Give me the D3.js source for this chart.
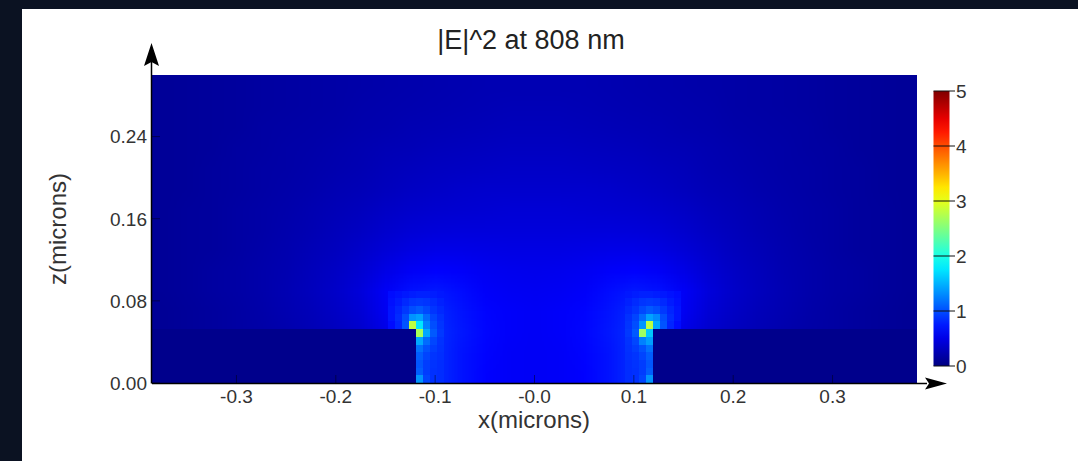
<!DOCTYPE html>
<html><head><meta charset="utf-8">
<script src="https://cdn.jsdelivr.net/npm/d3@7"></script>
<style>
html,body{margin:0;padding:0;background:#0b1222;}
svg{display:block;}
</style></head><body>
<svg id="chart" width="1078" height="461"></svg>
<script>
// ---------- text / ticks ----------
const titleText = "|E|^2 at 808 nm";
const xLabelText = "x(microns)";
const zLabelText = "z(microns)";
const xTicks = [-0.3, -0.2, -0.1, 0, 0.1, 0.2, 0.3];
const xTickLabels = ["-0.3", "-0.2", "-0.1", "-0.0", "0.1", "0.2", "0.3"];
const zTicks = [0, 0.08, 0.16, 0.24];
const zTickLabels = ["0.00", "0.08", "0.16", "0.24"];
const cbTicks = [0, 1, 2, 3, 4, 5];
const xDomain = [-0.385, 0.385];
const zDomain = [0, 0.3];
const cDomain = [0, 5];

// ---------- coarse |E|^2 field (column centres x, row centres z top->bottom) ----------
const gridX = [-0.375,-0.35,-0.325,-0.3,-0.275,-0.25,-0.225,-0.2,-0.175,-0.15,-0.125,-0.1,-0.075,-0.05,-0.025,0,
               0.025,0.05,0.075,0.1,0.125,0.15,0.175,0.2,0.225,0.25,0.275,0.3,0.325,0.35,0.375];
const gridZ = [0.29,0.27,0.25,0.23,0.21,0.19,0.17,0.15,0.13,0.11,0.09,0.07,0.05,0.03,0.01];
const gridE2 = [
 [.12,.13,.14,.15,.16,.17,.18,.19,.20,.21,.22,.23,.24,.25,.25,.25,.25,.25,.24,.23,.22,.21,.20,.19,.18,.17,.16,.15,.14,.13,.12],
 [.12,.13,.14,.15,.16,.17,.18,.19,.21,.22,.23,.24,.25,.26,.27,.27,.27,.26,.25,.24,.23,.22,.21,.19,.18,.17,.16,.15,.14,.13,.12],
 [.12,.13,.14,.15,.17,.18,.19,.20,.22,.23,.25,.26,.27,.28,.29,.29,.29,.28,.27,.26,.25,.23,.22,.20,.19,.18,.17,.15,.14,.13,.12],
 [.12,.13,.14,.16,.17,.19,.20,.22,.24,.26,.27,.29,.30,.31,.32,.32,.32,.31,.30,.29,.27,.26,.24,.22,.20,.19,.17,.16,.14,.13,.12],
 [.12,.13,.15,.16,.18,.19,.21,.23,.25,.28,.30,.32,.33,.34,.35,.35,.35,.34,.33,.32,.30,.28,.25,.23,.21,.19,.18,.16,.15,.13,.12],
 [.12,.13,.15,.16,.18,.20,.22,.25,.27,.30,.33,.35,.37,.38,.38,.38,.38,.38,.37,.35,.33,.30,.27,.25,.22,.20,.18,.16,.15,.13,.12],
 [.12,.14,.15,.17,.19,.21,.24,.27,.30,.34,.37,.39,.40,.41,.42,.42,.42,.41,.40,.39,.37,.34,.30,.27,.24,.21,.19,.17,.15,.14,.12],
 [.12,.14,.15,.17,.19,.22,.25,.29,.33,.38,.42,.44,.45,.45,.45,.45,.45,.45,.45,.44,.42,.38,.33,.29,.25,.22,.19,.17,.15,.14,.12],
 [.12,.14,.15,.17,.20,.23,.27,.31,.37,.43,.48,.51,.51,.50,.49,.49,.49,.50,.51,.51,.48,.43,.37,.31,.27,.23,.20,.17,.15,.14,.12],
 [.12,.14,.16,.18,.21,.24,.29,.34,.41,.50,.58,.62,.60,.56,.54,.53,.54,.56,.60,.62,.58,.50,.41,.34,.29,.24,.21,.18,.16,.14,.12],
 [.12,.14,.16,.18,.21,.25,.30,.36,.45,.58,.70,.74,.68,.60,.57,.56,.57,.60,.68,.74,.70,.58,.45,.36,.30,.25,.21,.18,.16,.14,.12],
 [.11,.13,.15,.17,.20,.24,.28,.34,.42,.56,.75,.82,.72,.64,.60,.58,.60,.64,.72,.82,.75,.56,.42,.34,.28,.24,.20,.17,.15,.13,.11],
 [.11,.13,.15,.17,.19,.22,.26,.31,.38,.50,.68,.85,.74,.65,.60,.58,.60,.65,.74,.85,.68,.50,.38,.31,.26,.22,.19,.17,.15,.13,.11],
 [.05,.05,.05,.05,.05,.05,.06,.06,.06,.07,.30,.85,.72,.64,.59,.58,.59,.64,.72,.85,.30,.07,.06,.06,.06,.05,.05,.05,.05,.05,.05],
 [.05,.05,.05,.05,.05,.05,.06,.06,.06,.07,.30,.85,.72,.63,.59,.58,.59,.63,.72,.85,.30,.07,.06,.06,.06,.05,.05,.05,.05,.05,.05]
];

// ---------- fine mesh cells around the two corners ----------
const patchZ = [0.08625,0.07875,0.07125,0.06375,0.05625,0.04875,0.04125,0.03375,0.02625,0.01875,0.01125,0.00375];
const patchLeftX = [-0.1435,-0.1365,-0.1295,-0.1225,-0.1155,-0.1085,-0.1015,-0.0945];
const patchLeftE2 = [
 [0.68,0.71,0.74,0.76,0.78,0.78,0.76,0.74],
 [0.70,0.75,0.82,0.88,0.90,0.88,0.83,0.78],
 [0.72,0.80,0.90,1.00,1.06,0.98,0.88,0.82],
 [0.72,0.83,1.00,1.35,1.42,1.15,0.96,0.86],
 [0.68,0.80,1.03,2.80,1.75,1.25,1.00,0.88],
 [null,null,null,null,2.70,1.45,1.06,0.90],
 [null,null,null,null,1.45,1.15,0.97,0.87],
 [null,null,null,null,1.18,1.02,0.92,0.86],
 [null,null,null,null,1.08,0.96,0.88,0.85],
 [null,null,null,null,1.04,0.92,0.87,0.84],
 [null,null,null,null,1.08,0.92,0.86,0.84],
 [null,null,null,null,1.35,0.96,0.86,0.84]
];
const patchRightX = [0.0945,0.1015,0.1085,0.1155,0.1225,0.1295,0.1365,0.1435];
const patchRightE2 = [
 [0.74,0.76,0.78,0.78,0.76,0.74,0.71,0.68],
 [0.78,0.83,0.88,0.90,0.88,0.82,0.75,0.70],
 [0.82,0.88,0.98,1.06,1.00,0.90,0.80,0.72],
 [0.86,0.96,1.15,1.42,1.30,1.00,0.83,0.72],
 [0.88,1.00,1.35,2.80,1.45,1.03,0.80,0.68],
 [0.90,1.06,2.65,1.60,null,null,null,null],
 [0.87,0.97,1.25,1.40,null,null,null,null],
 [0.86,0.92,1.02,1.18,null,null,null,null],
 [0.85,0.88,0.96,1.08,null,null,null,null],
 [0.84,0.87,0.92,1.04,null,null,null,null],
 [0.84,0.86,0.92,1.08,null,null,null,null],
 [0.84,0.86,0.96,1.35,null,null,null,null]
];

// ---------- the two low-field blocks (x0, x1, z0, z1 in microns) ----------
const blockX0 = [-0.385, 0.1195];
const blockX1 = [-0.1195, 0.385];
const blockZ0 = [0, 0];
const blockZ1 = [0.0525, 0.0525];
const blockE2 = [0.06, 0.06];

// ---------- drawing ----------
const W = 1078, H = 461;
const svg = d3.select("#chart");
const font = "'Liberation Sans', Arial, sans-serif";
svg.append("rect").attr("x", 22).attr("y", 9).attr("width", W - 22).attr("height", H - 9).attr("fill", "#ffffff");

const P = {l: 152, r: 917, t: 75, b: 383};
const x = d3.scaleLinear().domain(xDomain).range([P.l, P.r]);
const z = d3.scaleLinear().domain(zDomain).range([P.b, P.t]);
const span = cDomain[1] - cDomain[0];
const color = d3.scaleLinear()
  .domain([0, 0.125, 0.375, 0.625, 0.875, 1].map(f => cDomain[0] + f * span))
  .range(["#000080", "#0000ff", "#00ffff", "#ffff00", "#ff0000", "#800000"])
  .interpolate(d3.interpolateRgb).clamp(true);

const defs = svg.append("defs");
defs.append("clipPath").attr("id", "clip").append("rect")
  .attr("x", P.l).attr("y", P.t).attr("width", P.r - P.l).attr("height", P.b - P.t);

const field = svg.append("g").attr("clip-path", "url(#clip)");

// coarse field as a smoothly scaled image
const nx = gridX.length, nz = gridZ.length;
const cv = document.createElement("canvas");
cv.width = nx; cv.height = nz;
const ctx = cv.getContext("2d");
const img = ctx.createImageData(nx, nz);
gridE2.forEach((row, j) => row.forEach((v, i) => {
  const c = d3.rgb(color(v)); const k = (j * nx + i) * 4;
  img.data[k] = c.r; img.data[k + 1] = c.g; img.data[k + 2] = c.b; img.data[k + 3] = 255;
}));
ctx.putImageData(img, 0, 0);
const gdx = gridX[1] - gridX[0], gdz = gridZ[0] - gridZ[1];
const gx0 = x(gridX[0] - gdx / 2), gx1 = x(gridX[nx - 1] + gdx / 2);
const gy0 = z(gridZ[0] + gdz / 2), gy1 = z(gridZ[nz - 1] - gdz / 2);
field.append("image").attr("href", cv.toDataURL())
  .attr("x", gx0).attr("y", gy0).attr("width", gx1 - gx0).attr("height", gy1 - gy0)
  .attr("preserveAspectRatio", "none");

// fine cells
function drawPatch(xs, vals) {
  const pdx = xs[1] - xs[0], pdz = patchZ[0] - patchZ[1];
  const cells = [];
  vals.forEach((row, j) => row.forEach((v, i) => { if (v !== null) cells.push({xc: xs[i], zc: patchZ[j], v}); }));
  field.append("g").attr("shape-rendering", "crispEdges").selectAll("rect").data(cells).join("rect")
    .attr("x", d => x(d.xc - pdx / 2)).attr("y", d => z(d.zc + pdz / 2))
    .attr("width", d => x(d.xc + pdx / 2) - x(d.xc - pdx / 2))
    .attr("height", d => z(d.zc - pdz / 2) - z(d.zc + pdz / 2))
    .attr("fill", d => color(d.v));
}
drawPatch(patchLeftX, patchLeftE2);
drawPatch(patchRightX, patchRightE2);

// blocks
const blocks = blockX0.map((x0, i) => ({x0, x1: blockX1[i], z0: blockZ0[i], z1: blockZ1[i], v: blockE2[i]}));
field.append("g").attr("shape-rendering", "crispEdges").selectAll("rect").data(blocks).join("rect")
  .attr("x", d => x(d.x0)).attr("y", d => z(d.z1))
  .attr("width", d => x(d.x1) - x(d.x0)).attr("height", d => z(d.z0) - z(d.z1))
  .attr("fill", d => color(d.v));

// ticks inside plot
const tg = svg.append("g").attr("stroke", "#000").attr("stroke-opacity", 0.45).attr("stroke-width", 1);
tg.selectAll(".xt").data(xTicks).join("line").attr("class", "xt")
  .attr("x1", d => x(d)).attr("x2", d => x(d)).attr("y1", P.b).attr("y2", P.b - 8);
tg.selectAll(".zt").data(zTicks).join("line").attr("class", "zt")
  .attr("x1", P.l).attr("x2", P.l + 8).attr("y1", d => z(d)).attr("y2", d => z(d));

// axis lines with arrows
const ax = svg.append("g");
ax.append("line").attr("x1", P.l).attr("x2", 927).attr("y1", P.b + 0.5).attr("y2", P.b + 0.5).attr("stroke", "#000").attr("stroke-width", 1.5);
ax.append("path").attr("d", `M947,${P.b + 0.5} L925,${P.b - 5.5} L929,${P.b + 0.5} L925,${P.b + 6.5} Z`).attr("fill", "#000");
ax.append("line").attr("x1", P.l - 0.5).attr("x2", P.l - 0.5).attr("y1", P.b + 0.5).attr("y2", 62).attr("stroke", "#000").attr("stroke-width", 1.5);
ax.append("path").attr("d", `M${P.l - 0.5},43 L${P.l - 8},66 L${P.l - 0.5},62 L${P.l + 7},66 Z`).attr("fill", "#000");

// tick labels
svg.append("g").selectAll("text").data(xTicks).join("text")
  .attr("x", d => x(d)).attr("y", 403).attr("text-anchor", "middle")
  .attr("font-family", font).attr("font-size", 19).attr("fill", "#333")
  .text((d, i) => xTickLabels[i]);
svg.append("g").selectAll("text").data(zTicks).join("text")
  .attr("x", 147).attr("y", d => z(d)).attr("dy", "0.36em").attr("text-anchor", "end")
  .attr("font-family", font).attr("font-size", 19).attr("fill", "#333")
  .text((d, i) => zTickLabels[i]);

// labels
svg.append("text").attr("x", 531).attr("y", 49).attr("text-anchor", "middle")
  .attr("font-family", font).attr("font-size", 27).attr("fill", "#222").text(titleText);
svg.append("text").attr("x", 534).attr("y", 428).attr("text-anchor", "middle")
  .attr("font-family", font).attr("font-size", 24).attr("fill", "#333").text(xLabelText);
svg.append("text").attr("transform", "translate(66,229) rotate(-90)").attr("text-anchor", "middle")
  .attr("font-family", font).attr("font-size", 24).attr("fill", "#333").text(zLabelText);

// colour bar
const cb = d3.scaleLinear().domain(cDomain).range([366, 91]);
const grad = defs.append("linearGradient").attr("id", "jet").attr("x1", 0).attr("y1", 1).attr("x2", 0).attr("y2", 0);
d3.range(0, 1.0001, 0.05).forEach(f => {
  grad.append("stop").attr("offset", f).attr("stop-color", color(cDomain[0] + f * span));
});
svg.append("rect").attr("x", 933.5).attr("y", cb(cDomain[1])).attr("width", 16).attr("height", cb(cDomain[0]) - cb(cDomain[1]))
  .attr("fill", "url(#jet)");
svg.append("g").selectAll("line").data(cbTicks).join("line")
  .attr("x1", 933.5).attr("x2", 955).attr("y1", d => cb(d)).attr("y2", d => cb(d))
  .attr("stroke", "#111").attr("stroke-width", 1);
svg.append("g").selectAll("text").data(cbTicks).join("text")
  .attr("x", 956).attr("y", d => cb(d)).attr("dy", "0.36em")
  .attr("font-family", font).attr("font-size", 19).attr("fill", "#333")
  .text(d => d);
</script>
</body></html>
